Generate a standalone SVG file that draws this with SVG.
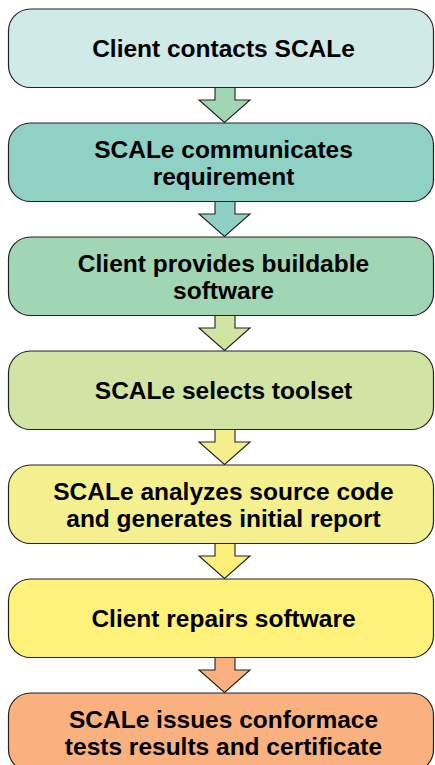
<svg xmlns="http://www.w3.org/2000/svg" width="435" height="765" viewBox="0 0 435 765">
<style>
.box{stroke:#222;stroke-width:1.2}
.arr{stroke:#222;stroke-width:1.1;stroke-linejoin:miter}
text{font-family:"Liberation Sans",Arial,sans-serif;font-weight:bold;font-size:24.5px;fill:#000;text-anchor:middle}
</style>
<rect width="435" height="765" fill="#fff"/>
<g id="connectors">
<path class="arr" fill="#a0d6b4" d="M215,87.5 V100 H199 L224.5,122.5 L250,100 H235 V87.5"/>
<path class="arr" fill="#8fd0c5" d="M215,201.5 V214 H199 L224.5,236.5 L250,214 H235 V201.5"/>
<path class="arr" fill="#d2e4a2" d="M215,315.5 V328 H199 L224.5,350.5 L250,328 H235 V315.5"/>
<path class="arr" fill="#f4ef8c" d="M215,429.5 V442 H199 L224.5,464.5 L250,442 H235 V429.5"/>
<path class="arr" fill="#fdf07a" d="M215,543.5 V556 H199 L224.5,578.5 L250,556 H235 V543.5"/>
<path class="arr" fill="#f9b07e" d="M215,657.5 V670 H199 L224.5,692.5 L250,670 H235 V657.5"/>
</g>
<g id="n1"><rect class="box" x="8.5" y="9" width="425" height="78.5" rx="22" fill="#d0eae8"/><text x="223.5" y="57">Client contacts SCALe</text></g>
<g id="n2"><rect class="box" x="8.5" y="123" width="425" height="78.5" rx="22" fill="#8fd1c5"/><text x="223.5" y="157.5">SCALe communicates</text><text x="223.5" y="184.5">requirement</text></g>
<g id="n3"><rect class="box" x="8.5" y="237" width="425" height="78.5" rx="22" fill="#a1d6b4"/><text x="223.5" y="271.5">Client provides buildable</text><text x="223.5" y="298.5">software</text></g>
<g id="n4"><rect class="box" x="8.5" y="351" width="425" height="78.5" rx="22" fill="#d2e4a3"/><text x="223.5" y="399">SCALe selects toolset</text></g>
<g id="n5"><rect class="box" x="8.5" y="465" width="425" height="78.5" rx="22" fill="#f5f08f"/><text x="223.5" y="499.5">SCALe analyzes source code</text><text x="223.5" y="526.5">and generates initial report</text></g>
<g id="n6"><rect class="box" x="8.5" y="579" width="425" height="78.5" rx="22" fill="#fef27a"/><text x="223.5" y="627">Client repairs software</text></g>
<g id="n7"><rect class="box" x="8.5" y="693" width="425" height="78.5" rx="22" fill="#f9b17f"/><text x="223.5" y="727.5">SCALe issues conformace</text><text x="223.5" y="754.5">tests results and certificate</text></g>
</svg>
